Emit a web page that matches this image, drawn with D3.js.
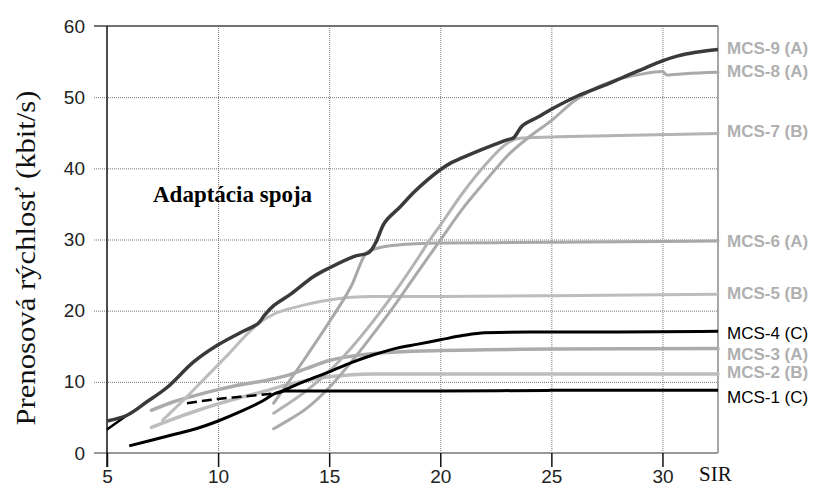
<!DOCTYPE html>
<html>
<head>
<meta charset="utf-8">
<script src="https://cdn.jsdelivr.net/npm/d3@7"></script>
<style>
  body { margin: 0; background: #fff; }
  svg { display: block; }
  .grid line { stroke: #777; stroke-dasharray: 1,1; stroke-width: 1; }
  .grid .domain { display: none; }
  .grid text { display: none; }
  .yaxis text, .xaxis text { font-family: 'Liberation Sans', Arial, sans-serif; font-size: 19px; fill: #222; }
  .yaxis line, .yaxis .domain { display: none; }
  .xaxis line { stroke: #111; }
  .xaxis .domain { display: none; }
</style>
</head>
<body>
<div id="chart"></div>
<script>
// SIR / rate pairs
const adaptacia = [[5,4.5],[5.9,5.3],[6.8,7.2],[7.7,9.2],[8.9,12.8],[10,15.2],[11,16.9],[11.8,18.2],[12.1,19.4],[12.5,20.7],[13.3,22.4],[14.3,24.8],[15,26],[16.1,27.6],[16.8,28.2],[17.1,29.6],[17.5,32.4],[18.2,34.6],[18.8,36.6],[19.4,38.3],[20,39.8],[20.5,40.8],[21,41.5],[22,42.8],[23,44.0],[23.3,44.3],[23.7,46],[24.4,47.2],[25,48.3],[26.2,50.2],[27.5,51.8],[28.3,52.9],[29,53.8],[30,55.1],[30.7,55.8],[31.5,56.3],[32.5,56.7]];
const stub = [[5,3.3],[5.9,5.3]];
const mcs8 = [[12.5,3.4],[13,4.3],[14,6.3],[15,9.2],[16,12.8],[17,16.8],[18,21],[19,25.5],[20,29.9],[21,34.3],[22,38.1],[22.6,40.3],[23,41.7],[24,44.4],[25,46.7],[26,49.4],[27,51.3],[28,52.5],[29,53.2],[30,53.6],[30.2,53.1],[31,53.3],[32.5,53.5]];
const mcs7 = [[12.5,5.6],[13,6.6],[14,8.8],[15,11.5],[16,14.8],[17,18.6],[18,22.8],[19,27.4],[19.5,29.8],[20,32],[21,36.5],[22,40.4],[23,43.5],[23.5,44.2],[25,44.4],[28,44.6],[32.5,44.9]];
const mcs6 = [[12.5,7.0],[13,9.2],[14,13.7],[15,18.4],[16,23.5],[16.7,28.2],[17.2,28.8],[18,29.2],[20,29.5],[25,29.6],[32.5,29.8]];
const mcs5 = [[7.5,4.6],[8.5,7.6],[9.5,10.8],[10.5,14],[11.5,17.3],[12,18.6],[12.5,19.5],[13.5,20.5],[15,21.5],[16,21.9],[17,22.0],[20,22.0],[25,22.1],[32.5,22.3]];
const mcs4 = [[8.6,7.0],[10,7.6],[11,7.9],[12.7,8.4],[13.3,9.3],[14,10.2],[15,11.4],[16,12.7],[17,13.8],[18,14.7],[19,15.3],[20,15.9],[21,16.5],[22,16.9],[24,17.0],[28,17.0],[32.5,17.1]];
const mcs3 = [[7,6.0],[8,7.2],[9,8.1],[10,8.9],[11,9.6],[12,10.1],[13,10.8],[14,11.9],[15,13.0],[16,13.6],[17,14.0],[18,14.2],[20,14.4],[22,14.5],[25,14.6],[32.5,14.7]];
const mcs2 = [[7,3.6],[8,4.8],[9,5.9],[10,6.9],[11,7.8],[12,8.6],[13,9.5],[14,10.2],[15,10.7],[16,11.0],[17,11.1],[20,11.1],[32.5,11.1]];
const mcs1 = [[6,1.0],[7,1.8],[8,2.6],[9,3.4],[10,4.5],[11,5.8],[12,7.3],[12.6,8.4],[13,8.7],[15,8.7],[20,8.7],[25,8.8],[32.5,8.8]];

const xTicks = [5, 10, 15, 20, 25, 30];
const yTicks = [0, 10, 20, 30, 40, 50, 60];
const labels = ['MCS-9 (A)', 'MCS-8 (A)', 'MCS-7 (B)', 'MCS-6 (A)', 'MCS-5 (B)', 'MCS-4 (C)', 'MCS-3 (A)', 'MCS-2 (B)', 'MCS-1 (C)'];

const width = 813;
const height = 488;
const plot = { left: 107, right: 718, top: 26, bottom: 453 };

const svg = d3.select('#chart').append('svg')
    .attr('width', width)
    .attr('height', height);

const x = d3.scaleLinear().domain([5, 32.5]).range([plot.left, plot.right]);
const y = d3.scaleLinear().domain([0, 60]).range([plot.bottom, plot.top]);

// dotted grid
svg.append('g')
    .attr('class', 'grid')
    .attr('transform', `translate(${plot.left - 13}, 0)`)
    .call(d3.axisLeft(y).tickValues(yTicks.filter(d => d > 0 && d < 60)).tickSize(-(plot.right - plot.left + 13)));
svg.append('g')
    .attr('class', 'grid')
    .attr('transform', `translate(0, ${plot.bottom})`)
    .call(d3.axisBottom(x).tickValues(xTicks.filter(d => d > 5)).tickSize(-(plot.bottom - plot.top)));

// frame
svg.append('line').attr('x1', plot.left - 13).attr('x2', plot.right).attr('y1', plot.top).attr('y2', plot.top)
    .attr('stroke', '#444').attr('stroke-width', 1.5);
svg.append('line').attr('x1', plot.right).attr('x2', plot.right).attr('y1', plot.top).attr('y2', plot.bottom)
    .attr('stroke', '#888').attr('stroke-width', 1.5);
svg.append('line').attr('x1', plot.left - 13).attr('x2', plot.right).attr('y1', plot.bottom).attr('y2', plot.bottom)
    .attr('stroke', '#999').attr('stroke-width', 2);
svg.append('line').attr('x1', plot.left).attr('x2', plot.left).attr('y1', plot.top).attr('y2', plot.bottom + 14)
    .attr('stroke', '#111').attr('stroke-width', 1.5);

// axes
svg.append('g')
    .attr('class', 'yaxis')
    .attr('transform', `translate(${plot.left - 13}, 0)`)
    .call(d3.axisLeft(y).tickValues(yTicks).tickSize(0).tickPadding(9));
svg.append('g')
    .attr('class', 'xaxis')
    .attr('transform', `translate(0, ${plot.bottom})`)
    .call(d3.axisBottom(x).tickValues(xTicks).tickSize(14).tickPadding(3))
    .selectAll('line').attr('stroke-width', 1.5);

const line = d3.line()
    .x(d => x(d[0]))
    .y(d => y(d[1]))
    .curve(d3.curveMonotoneX);

const series = [
    { data: mcs2, color: '#bdbdbd', w: 3.5 },
    { data: mcs3, color: '#ababab', w: 3.5 },
    { data: mcs5, color: '#bdbdbd', w: 3 },
    { data: mcs6, color: '#a8a8a8', w: 3 },
    { data: mcs7, color: '#b3b3b3', w: 3 },
    { data: mcs8, color: '#aaaaaa', w: 3 },
];

svg.append('g').selectAll('path')
    .data(series)
    .join('path')
    .attr('d', d => line(d.data))
    .attr('fill', 'none')
    .attr('stroke', d => d.color)
    .attr('stroke-width', d => d.w)
    .attr('stroke-linecap', 'round');

// black curves, MCS-4 dashed at low SIR
svg.append('path')
    .attr('d', line(mcs4.filter(d => d[0] <= 12.7)))
    .attr('fill', 'none').attr('stroke', '#000').attr('stroke-width', 2.5)
    .attr('stroke-dasharray', '10,5');
svg.append('path')
    .attr('d', line(mcs4.filter(d => d[0] >= 12.7)))
    .attr('fill', 'none').attr('stroke', '#000').attr('stroke-width', 3);
svg.append('path')
    .attr('d', line(mcs1))
    .attr('fill', 'none').attr('stroke', '#000').attr('stroke-width', 3);
svg.append('path')
    .attr('d', line(stub))
    .attr('fill', 'none').attr('stroke', '#000').attr('stroke-width', 2.5);

// link adaptation envelope
svg.append('path')
    .attr('d', line.curve(d3.curveCatmullRom.alpha(0.5))(adaptacia))
    .attr('fill', 'none')
    .attr('stroke', '#3a3a3a')
    .attr('stroke-width', 3.5)
    .attr('stroke-linejoin', 'round');

// labels at the right end of each curve
const ends = [adaptacia, mcs8, mcs7, mcs6, mcs5, mcs4, mcs3, mcs2, mcs1];
const labelDy = [-2, -1, -3, 0, -1, 2, 5, -2, 7];
svg.append('g').selectAll('text')
    .data(labels)
    .join('text')
    .attr('x', plot.right + 9)
    .attr('y', (d, i) => y(ends[i][ends[i].length - 1][1]) + labelDy[i])
    .attr('dy', '0.36em')
    .attr('font-family', "'Liberation Sans', Arial, sans-serif")
    .attr('font-size', 17)
    .attr('font-weight', d => d.endsWith('(C)') ? 'normal' : 'bold')
    .attr('fill', d => d.endsWith('(C)') ? '#000' : '#b0b0b0')
    .text(d => d);

// titles
svg.append('text')
    .attr('transform', 'translate(35, 258) rotate(-90)')
    .attr('text-anchor', 'middle')
    .attr('font-family', "'Liberation Serif', 'Times New Roman', serif")
    .attr('font-size', 27)
    .attr('textLength', 335)
    .attr('lengthAdjust', 'spacingAndGlyphs')
    .attr('fill', '#111')
    .text('Prenosová rýchlosť (kbit/s)');

svg.append('text')
    .attr('x', 153)
    .attr('y', 202)
    .attr('font-family', "'Liberation Serif', 'Times New Roman', serif")
    .attr('font-size', 23)
    .attr('font-weight', 'bold')
    .attr('fill', '#000')
    .text('Adaptácia spoja');

svg.append('text')
    .attr('x', 699)
    .attr('y', 481)
    .attr('font-family', "'Liberation Serif', 'Times New Roman', serif")
    .attr('font-size', 21)
    .attr('fill', '#111')
    .text('SIR');
</script>
</body>
</html>
